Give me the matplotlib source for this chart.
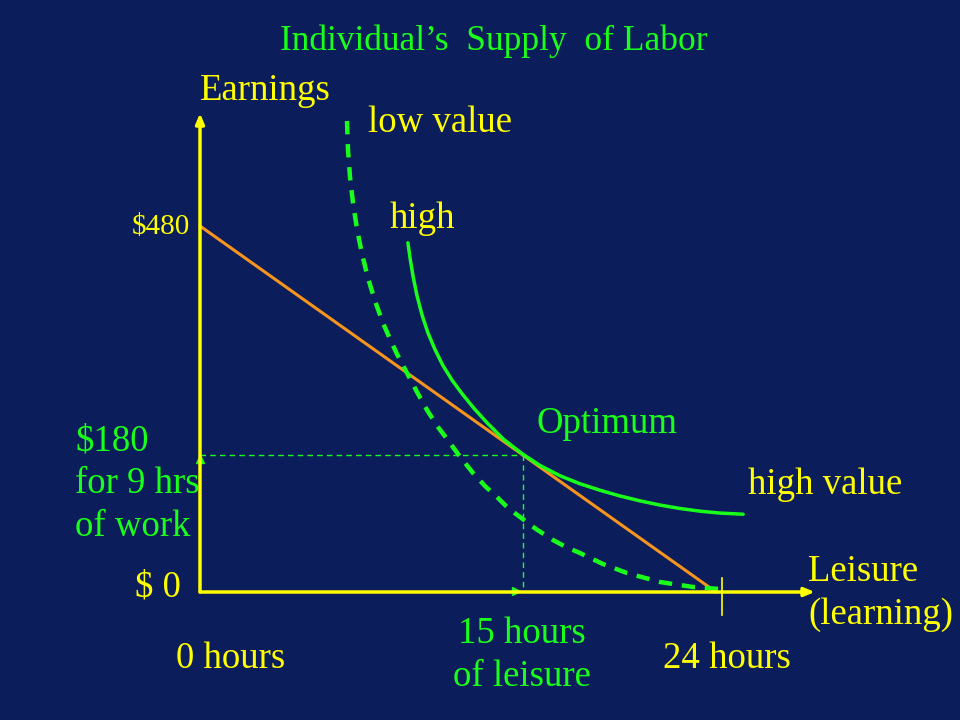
import matplotlib
matplotlib.use("Agg")
import matplotlib.pyplot as plt

# ---- data ----
budget_hours = [0, 24]
budget_earnings = [480, 0]

high_ic_hours = [9.67, 9.77, 9.91, 10.09, 10.33, 10.60, 10.93, 11.30, 11.72, 12.19,
                 12.74, 13.35, 14.09, 15.00, 15.81, 16.74, 17.67, 18.60, 19.53,
                 20.47, 21.40, 22.33, 23.26, 24.19, 25.26]
high_ic_earn = [458, 438, 414, 389, 363, 340, 318, 297, 278, 260,
                241, 222, 201, 181, 166, 152.5, 142, 133.5, 126,
                119.5, 114, 109.5, 106, 103.5, 102]

low_ic_hours = [6.837, 6.884, 6.977, 7.116, 7.302, 7.535, 7.814, 8.140, 8.512, 8.837,
                9.163, 9.628, 10.093, 10.558, 11.070, 11.628, 12.140, 12.698, 13.256,
                13.814, 14.326, 14.884, 15.628, 16.419, 17.023, 17.674, 18.744, 19.860,
                21.395, 22.930, 24.186]
low_ic_earn = [617.7, 579.7, 544.3, 510.2, 476.1, 443.3, 411.8, 381.6, 352.8, 331.8,
               312.1, 287.2, 262.3, 238.7, 216.4, 195.4, 175.7, 156.1, 139.0,
               124.6, 110.2, 98.4, 82.6, 68.2, 59.0, 51.1, 36.7, 24.9,
               13.1, 6.6, 3.9]

opt_hours = 15
opt_earn = 180

# ---- style ----
BG = "#0b1d5b"
YEL = "#ffff00"
GRN = "#19ff19"
ORG = "#f7941d"
FONT = "Liberation Serif"

fig = plt.figure(figsize=(9.6, 7.2), dpi=100, facecolor=BG)
ax = fig.add_axes([0, 0, 1, 1])
ax.set_facecolor(BG)
ax.axis("off")
px_per_h = 21.5
px_per_d = 0.7625
ax.set_xlim(-200 / px_per_h, (960 - 200) / px_per_h)
ax.set_ylim(-(720 - 592) / px_per_d, 592 / px_per_d)

# axes arrows
ax.annotate("", xy=(28.6, 0), xytext=(0, 0),
            arrowprops=dict(arrowstyle="-|>,head_length=0.6,head_width=0.25",
                            color=YEL, lw=2.5, shrinkA=0, shrinkB=0))
ax.annotate("", xy=(0, 628), xytext=(0, 0),
            arrowprops=dict(arrowstyle="-|>,head_length=0.6,head_width=0.25",
                            color=YEL, lw=2.5, shrinkA=0, shrinkB=0))
# 24-hour tick
ax.plot([24.3, 24.3], [18, -30], color=YEL, lw=1.2)

# dotted guide lines
ax.plot([0, opt_hours], [opt_earn, opt_earn], color=GRN, lw=1, ls=(0, (4, 3)))
ax.plot([opt_hours, opt_hours], [opt_earn, 0], color=GRN, lw=1, ls=(0, (4, 3)))
ax.plot([0], [opt_earn - 5], marker="^", color=GRN, ms=6)
ax.plot([opt_hours - 0.3], [1.5], marker=">", color=GRN, ms=6)

# budget line
ax.plot(budget_hours, budget_earnings, color=ORG, lw=2.2, solid_capstyle="round")
# indifference curves
ax.plot(high_ic_hours, high_ic_earn, color=GRN, lw=2.5, solid_capstyle="round",
        solid_joinstyle="round")
ax.plot(low_ic_hours, low_ic_earn, color=GRN, lw=3.2, ls=(0, (3, 2.2)))


def t(px, py, s, color, size=26.5, ha="left", va="center"):
    fig.text(px / 960, 1 - py / 720, s, color=color, fontsize=size, ha=ha, va=va,
             family=FONT, linespacing=1.32)


t(494, 41, "Individual’s  Supply  of Labor", GRN, size=25.5, ha="center")
t(200, 91, "Earnings", YEL)
t(368, 123, "low value", YEL)
t(390, 219, "high", YEL)
t(190, 227, "$480", YEL, size=21, ha="right")
t(537, 424, "Optimum", GRN)
t(748, 485, "high value", YEL)
t(75, 484, "$180\nfor 9 hrs\nof work", GRN)
t(181, 587, "$ 0", YEL, ha="right")
t(808, 593, "Leisure\n(learning)", YEL)
t(231, 659, "0 hours", YEL, ha="center")
t(522, 655, "15 hours\nof leisure", GRN, ha="center")
t(727, 659, "24 hours", YEL, ha="center")

fig.savefig("out.png", dpi=100, facecolor=BG)
